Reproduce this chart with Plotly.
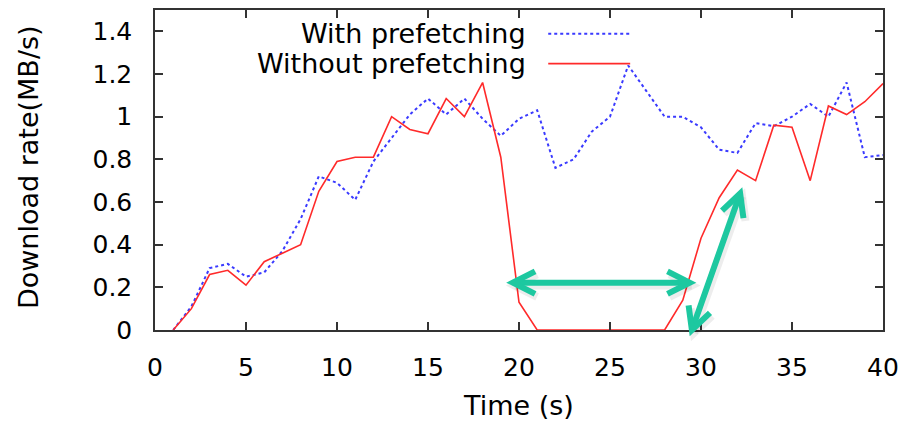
import math
import plotly.graph_objects as go

# ---------------- data ----------------
time_s = list(range(1, 41))
with_prefetching = [0.00, 0.11, 0.29, 0.31, 0.25, 0.27, 0.37, 0.52, 0.72, 0.69,
                    0.61, 0.79, 0.90, 1.01, 1.085, 1.01, 1.085, 0.99, 0.91, 0.99,
                    1.03, 0.76, 0.80, 0.93, 1.00, 1.24, 1.12, 1.00, 1.00, 0.95,
                    0.845, 0.83, 0.97, 0.955, 1.00, 1.06, 1.00, 1.16, 0.81, 0.82]
without_prefetching = [0.00, 0.10, 0.26, 0.28, 0.21, 0.32, 0.36, 0.40, 0.65, 0.79,
                       0.81, 0.81, 1.00, 0.94, 0.92, 1.085, 1.00, 1.16, 0.81, 0.13,
                       0.00, 0.00, 0.00, 0.00, 0.00, 0.00, 0.00, 0.00, 0.14, 0.43,
                       0.62, 0.75, 0.70, 0.96, 0.95, 0.70, 1.05, 1.01, 1.07, 1.155]
series_names = ["With prefetching", "Without prefetching"]
x_ticks = [0, 5, 10, 15, 20, 25, 30, 35, 40]
y_ticks = [0, 0.2, 0.4, 0.6, 0.8, 1.0, 1.2, 1.4]
x_title = "Time (s)"
y_title = "Download rate(MB/s)"
# annotation arrows (data coords): gap arrow and drop arrow
gap_arrow = [(19.66, 0.222), (29.38, 0.222)]
drop_arrow = [(29.5, 0.0), (32.15, 0.64)]

# ---------------- layout geometry ----------------
# the page body has an 8px margin, so the figure is drawn 8px in from the corner
OFF = 8
W, H = 906 - OFF, 425 - OFF
ML, MR, MT, MB = 154.5 - OFF, 23, 0, 95
X_RANGE = [0, 40]
Y_RANGE = [0, 1.5]
PW = W - ML - MR
PH = H - MT - MB

BLUE = "#3a3aff"
RED = "#ff2a2a"
TEAL = "#1dc8a0"
AXC = "#333333"
FONT = "DejaVu Sans"

fig = go.Figure()
fig.add_trace(go.Scatter(x=time_s, y=with_prefetching, mode="lines",
                         name=series_names[0],
                         line=dict(color=BLUE, width=2, dash="dot"),
                         showlegend=False))
fig.add_trace(go.Scatter(x=time_s, y=without_prefetching, mode="lines",
                         name=series_names[1],
                         line=dict(color=RED, width=1.6),
                         showlegend=False))


def to_px(x, y):
    px = ML + (x - X_RANGE[0]) / (X_RANGE[1] - X_RANGE[0]) * PW
    py = MT + PH - (y - Y_RANGE[0]) / (Y_RANGE[1] - Y_RANGE[0]) * PH
    return px, py


def to_paper(px, py):
    return (px - ML) / PW, (MT + PH - py) / PH


def ref(px, py):
    """screen pixel in the reference picture -> paper coords"""
    return to_paper(px - OFF, py - OFF)


def double_arrow(p0, p1, color, width, dx=0.0, dy=0.0):
    a = to_px(*p0)
    b = to_px(*p1)
    a = (a[0] + dx, a[1] + dy)
    b = (b[0] + dx, b[1] + dy)
    shapes = []
    pa = to_paper(*a)
    pb = to_paper(*b)
    shapes.append(dict(type="line", xref="paper", yref="paper",
                       x0=pa[0], y0=pa[1], x1=pb[0], y1=pb[1],
                       line=dict(color=color, width=width)))
    L, ang = 25, math.radians(27)
    for tip, other in ((a, b), (b, a)):
        ux, uy = other[0] - tip[0], other[1] - tip[1]
        n = math.hypot(ux, uy)
        ux, uy = ux / n, uy / n
        pts = []
        for s in (1, -1):
            c, sn = math.cos(s * ang), math.sin(s * ang)
            rx, ry = ux * c - uy * sn, ux * sn + uy * c
            pts.append(to_paper(tip[0] + rx * L, tip[1] + ry * L))
        t = to_paper(*tip)
        path = "M {:.5f},{:.5f} L {:.5f},{:.5f} L {:.5f},{:.5f}".format(
            pts[0][0], pts[0][1], t[0], t[1], pts[1][0], pts[1][1])
        shapes.append(dict(type="path", xref="paper", yref="paper", path=path,
                           line=dict(color=color, width=width)))
    return shapes


shapes = []
for arr in (gap_arrow, drop_arrow):
    shapes += double_arrow(arr[0], arr[1], "rgba(0,0,0,0.07)", 8, dx=2, dy=3)
for arr in (gap_arrow, drop_arrow):
    shapes += double_arrow(arr[0], arr[1], TEAL, 6)

# legend samples (manual, right of the text)
leg_x0, leg_x1 = ref(548, 0)[0], ref(630, 0)[0]
leg_y = [ref(0, 32)[1], ref(0, 62)[1]]
shapes.append(dict(type="line", xref="paper", yref="paper", x0=leg_x0, x1=leg_x1,
                   y0=leg_y[0], y1=leg_y[0], line=dict(color=BLUE, width=2, dash="dot")))
shapes.append(dict(type="line", xref="paper", yref="paper", x0=leg_x0, x1=leg_x1,
                   y0=leg_y[1], y1=leg_y[1], line=dict(color=RED, width=1.6)))

annotations = []
leg_tx = ref(528, 0)[0]
for name, yy in zip(series_names, leg_y):
    annotations.append(dict(text=name, xref="paper", yref="paper", x=leg_tx, y=yy,
                            xanchor="right", yanchor="middle", showarrow=False,
                            font=dict(family=FONT, size=27, color="black")))
tx, ty = ref(518, 406)
annotations.append(dict(text=x_title, xref="paper", yref="paper", x=tx, y=ty,
                        xanchor="center", yanchor="middle", showarrow=False,
                        font=dict(family=FONT, size=27, color="black")))
yx, yy_ = ref(27.5, 166)
annotations.append(dict(text=y_title, xref="paper", yref="paper", x=yx, y=yy_,
                        xanchor="center", yanchor="middle", showarrow=False,
                        textangle=-90,
                        font=dict(family=FONT, size=27, color="black")))

axis_common = dict(showline=True, linecolor=AXC, linewidth=1.5, mirror="ticks",
                   ticks="inside", ticklen=8, tickwidth=1.5, tickcolor=AXC,
                   showgrid=False, zeroline=False,
                   tickfont=dict(family=FONT, size=25, color="black"))

fig.update_layout(
    width=W, height=H,
    margin=dict(l=ML, r=MR, t=MT, b=MB, pad=0),
    paper_bgcolor="white", plot_bgcolor="white",
    xaxis=dict(range=X_RANGE, tickvals=x_ticks, ticklabelstandoff=14, **axis_common),
    yaxis=dict(range=Y_RANGE, tickvals=y_ticks,
               ticktext=[("%g" % v) for v in y_ticks],
               ticklabelstandoff=16, **axis_common),
    shapes=shapes,
    annotations=annotations,
    showlegend=False,
)

fig.write_html("out.html")
